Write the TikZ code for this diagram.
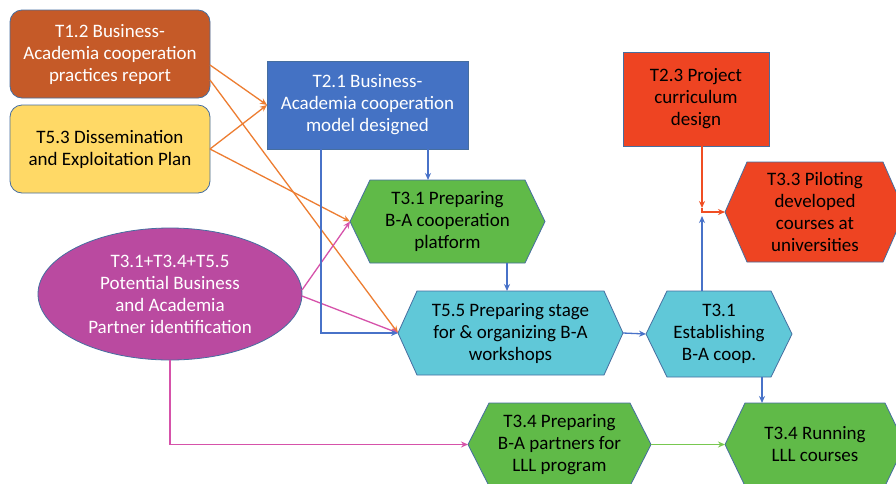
\documentclass[tikz,border=0pt]{standalone}
\usepackage{fontspec}
\setmainfont{Carlito}
\usetikzlibrary{arrows.meta,calc,shapes.geometric}
\definecolor{bordc}{RGB}{70,110,160}
\definecolor{brownor}{RGB}{197,90,40}
\definecolor{yell}{RGB}{255,217,102}
\definecolor{blu}{RGB}{68,114,196}
\definecolor{redor}{RGB}{238,68,34}
\definecolor{grn}{RGB}{96,186,72}
\definecolor{cyn}{RGB}{96,200,216}
\definecolor{mag}{RGB}{186,74,160}
\definecolor{orarr}{RGB}{237,125,49}
\definecolor{magarr}{RGB}{214,82,170}
\definecolor{bluarr}{RGB}{72,114,200}
\definecolor{grnarr}{RGB}{120,200,80}
\definecolor{redarr}{RGB}{240,78,35}
\tikzset{
  txt/.style={font=\fontsize{19}{22}\selectfont, align=center},
  rbox/.style={txt, draw=bordc, line width=0.8pt, rounded corners=12pt, inner sep=0pt, outer sep=0pt},
  sbox/.style={txt, draw=bordc, line width=0.8pt, inner sep=0pt, outer sep=0pt},
  hexbox/.style={txt, inner sep=0pt, outer sep=0pt, text=black},
  hexborder/.style={draw=bordc, line width=0.8pt},
  conn/.style={line width=1.3pt, -{Stealth[length=7pt,width=6pt]}},
  orc/.style={conn, draw=orarr},
  mgc/.style={conn, draw=magarr},
  blc/.style={conn, draw=bluarr},
  gnc/.style={conn, draw=grnarr},
  rdc/.style={conn, draw=redarr}
}
\newcommand\hexnode[8]{%
  \filldraw[fill=#7, hexborder] ({#2-#4/2},#3) -- ({#2-#4/2+#6},{#3-#5/2}) -- ({#2+#4/2-#6},{#3-#5/2}) -- ({#2+#4/2},#3) -- ({#2+#4/2-#6},{#3+#5/2}) -- ({#2-#4/2+#6},{#3+#5/2}) -- cycle;
  \node[hexbox, minimum width=#4pt, minimum height=#5pt] (#1) at (#2,#3) {#8};
}
\begin{document}
\begin{tikzpicture}[x=1pt, y=-1pt]
\useasboundingbox (0,0) rectangle (896,483);
\clip (0,0) rectangle (896,483);
\fill[white] (0,0) rectangle (896,483);

% rectangles
\node[rbox, fill=brownor, text=white, minimum width=200pt, minimum height=88pt] (t12) at (110,54) {T1.2 Business-\\Academia cooperation\\practices report};
\node[rbox, fill=yell, text=black, minimum width=200pt, minimum height=88pt] (t53) at (110,149) {T5.3 Dissemination\\and Exploitation Plan};
\node[sbox, fill=blu, text=white, minimum width=201pt, minimum height=88pt] (t21) at (367.5,105) {T2.1 Business-\\Academia cooperation\\model designed};
\node[sbox, fill=redor, text=black, minimum width=146pt, minimum height=94pt] (t23) at (696,99) {T2.3 Project\\curriculum\\design};

% ellipse
\node[txt, draw=bordc, line width=0.8pt, fill=mag, text=white, ellipse, minimum width=264pt, minimum height=132pt, inner sep=0pt, outer sep=0pt] (ell) at (170,294) {T3.1+T3.4+T5.5\\Potential Business\\and Academia\\Partner identification};

% hexagons
\hexnode{p31}{447.5}{221.5}{195}{83}{20}{grn}{T3.1 Preparing\\B-A cooperation\\platform}
\hexnode{t55}{510.5}{333}{225}{84}{19}{cyn}{T5.5 Preparing stage\\for \& organizing B-A\\workshops}
\hexnode{e31}{719}{334}{146}{86}{21}{cyn}{T3.1\\Establishing\\B-A coop.}
\hexnode{p33}{815}{212}{180}{100}{22}{redor}{T3.3 Piloting\\developed\\courses at\\universities}
\hexnode{p34}{559.5}{444.5}{183}{83}{21}{grn}{T3.4 Preparing\\B-A partners for\\LLL program}
\hexnode{r34}{815}{444.5}{180}{83}{20}{grn}{T3.4 Running\\LLL courses}

% helper coordinates
\coordinate (jd) at (702,208);
\coordinate (jr) at (702,212);
\coordinate (jb) at (702,216);

% orange connectors
\draw[orc] ([yshift=-11pt]t12.east) -- (t21.west);
\draw[orc] ([yshift=-26pt]t12.east) -- (t55.west);
\draw[orc] (t53.east) -- (t21.west);
\draw[orc] (t53.east) -- (p31.west);

% magenta connectors
\draw[mgc] ([yshift=4pt]ell.east) -- (p31.west);
\draw[mgc] ([yshift=-2pt]ell.east) -- (t55.west);
\draw[mgc] (ell.south) |- (p34.west);

% blue connectors
\draw[blc] ([xshift=-46.5pt]t21.south) |- (t55.west);
\draw[blc] ([xshift=60.5pt]t21.south) -- ([xshift=60.5pt]t21.south |- p31.north);
\draw[blc] ([xshift=59.5pt]p31.south) -- ([xshift=59.5pt]p31.south |- t55.north);
\draw[blc] (t55.east) -- (e31.west);
\draw[blc] ([xshift=-17pt]e31.north) -- (jb);
\draw[blc] ([xshift=43pt]e31.south) -- ([xshift=43pt]e31.south |- r34.north);

% red connectors
\draw[rdc] ([xshift=6pt]t23.south) -- (jd);
\draw[rdc] (jd) -- (jr) -- (p33.west);

% green connector
\draw[gnc] (p34.east) -- (r34.west);
\end{tikzpicture}
\end{document}
